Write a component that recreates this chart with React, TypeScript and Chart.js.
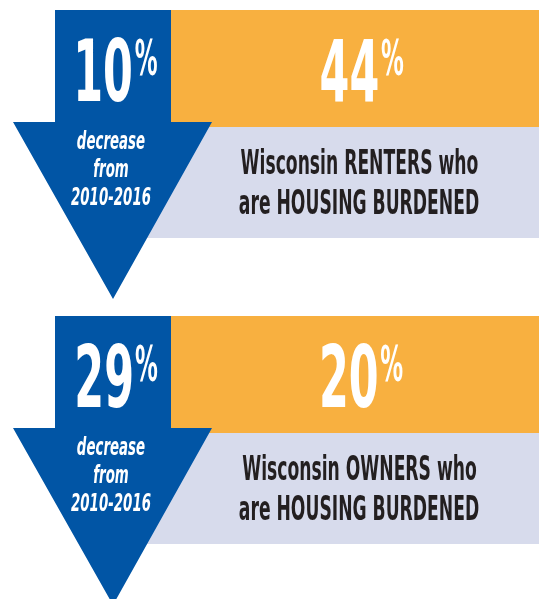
import React, { useEffect, useRef } from "react";
import { Chart, registerables } from "chart.js";

Chart.register(...registerables);

// ---- data ----
const groups = ["RENTERS", "OWNERS"];
const burdenedPct = [44, 20];
const decreasePct = [10, 29];
const periodLabel = "2010-2016";
const decreaseLines = ["decrease", "from", periodLabel];
const lineOne = groups.map((g) => `Wisconsin ${g} who`);
const lineTwo = "are HOUSING BURDENED";

// ---- styles ----
const BLUE = "#0155a5";
const ORANGE = "#f8b040";
const LAVENDER = "#d7dbec";
const DARK = "#231f20";
const FONT = "'Liberation Sans Narrow', 'DejaVu Sans Condensed', 'Arial Narrow', sans-serif";

function drawScaled(
  ctx: CanvasRenderingContext2D,
  text: string,
  x: number,
  y: number,
  font: string,
  sx: number,
  align: CanvasTextAlign,
  color: string
) {
  ctx.save();
  ctx.font = font;
  ctx.fillStyle = color;
  ctx.textAlign = align;
  ctx.textBaseline = "alphabetic";
  ctx.translate(x, y);
  ctx.scale(sx, 1);
  ctx.fillText(text, 0, 0);
  ctx.restore();
}

function inkBox(ctx: CanvasRenderingContext2D, text: string, font: string) {
  ctx.save();
  ctx.font = font;
  ctx.textAlign = "left";
  ctx.textBaseline = "alphabetic";
  const m = ctx.measureText(text);
  ctx.restore();
  return {
    left: m.actualBoundingBoxLeft,
    right: m.actualBoundingBoxRight,
    width: m.actualBoundingBoxLeft + m.actualBoundingBoxRight,
    ascent: m.actualBoundingBoxAscent,
    descent: m.actualBoundingBoxDescent,
  };
}

const infographicPlugin = {
  id: "infographic",
  beforeDatasetsDraw(chart: any) {
    const ctx: CanvasRenderingContext2D = chart.ctx;
    const yScale = chart.scales.y;
    const W = chart.width;

    const numFont = `bold 100px ${FONT}`;
    const pctFont = `bold 60px ${FONT}`;
    const itFont = `italic bold 24px ${FONT}`;
    const lineFont = `bold 34px ${FONT}`;

    // fit glyph ink to the reference proportions
    const numBox = inkBox(ctx, "44", numFont);
    const numSy = 63 / numBox.ascent;
    const numSx = 56 / numBox.width;
    const pctBox = inkBox(ctx, "%", pctFont);
    const pctH = pctBox.ascent + pctBox.descent;
    const pctSy = 38 / pctH;
    const pctSx = 22 / pctBox.width;
    const sxIt = 80 / inkBox(ctx, periodLabel, itFont).width;
    const sxLine = 239 / inkBox(ctx, lineTwo, lineFont).width;

    const drawScaledXY = (text: string, x: number, y: number, font: string, sx: number, sy: number) => {
      ctx.save();
      ctx.font = font;
      ctx.fillStyle = "#ffffff";
      ctx.textAlign = "left";
      ctx.textBaseline = "alphabetic";
      ctx.translate(x, y);
      ctx.scale(sx, sy);
      ctx.fillText(text, 0, 0);
      ctx.restore();
    };

    const drawPct = (val: number, cx: number, top: number) => {
      const s = String(val);
      const b = inkBox(ctx, s, numFont);
      const wd = b.width * numSx;
      const wp = pctBox.width * pctSx;
      const gap = 4;
      const start = cx - (wd + gap + wp) / 2;
      drawScaledXY(s, start + b.left * numSx, top + 91, numFont, numSx, numSy);
      // top of % aligned with top of digits
      const pctBaseline = top + 28 + pctBox.ascent * pctSy;
      drawScaledXY("%", start + wd + gap + pctBox.left * pctSx, pctBaseline, pctFont, pctSx, pctSy);
    };

    groups.forEach((_, i) => {
      const top = yScale.getPixelForValue(i);

      // lavender panel
      ctx.fillStyle = LAVENDER;
      ctx.fillRect(120, top + 117, W - 120, 111);
      // orange panel
      ctx.fillStyle = ORANGE;
      ctx.fillRect(171, top, W - 171, 117);

      // blue arrow
      ctx.fillStyle = BLUE;
      ctx.beginPath();
      ctx.moveTo(55, top);
      ctx.lineTo(171, top);
      ctx.lineTo(171, top + 112);
      ctx.lineTo(212, top + 112);
      ctx.lineTo(113, top + 289);
      ctx.lineTo(13, top + 112);
      ctx.lineTo(55, top + 112);
      ctx.closePath();
      ctx.fill();

      // arrow text
      drawPct(decreasePct[i], 117.5, top);
      decreaseLines.forEach((t, k) => {
        drawScaled(ctx, t, 111, top + 139 + k * 28, itFont, sxIt, "center", "#ffffff");
      });

      // orange number
      drawPct(burdenedPct[i], 362.5, top);

      // description
      drawScaled(ctx, lineOne[i], 359.5, top + 164, lineFont, sxLine, "center", DARK);
      drawScaled(ctx, lineTwo, 359, top + 203.5, lineFont, sxLine, "center", DARK);
    });
  },
};

export default function App() {
  const ref = useRef<HTMLCanvasElement | null>(null);
  useEffect(() => {
    if (!ref.current) return;
    const chart = new Chart(ref.current, {
      type: "bar",
      data: {
        labels: groups,
        datasets: [
          {
            data: burdenedPct,
            backgroundColor: "rgba(0,0,0,0)",
            borderWidth: 0,
          },
        ],
      },
      options: {
        indexAxis: "y",
        responsive: false,
        animation: false,
        events: [],
        layout: { padding: { top: 10, bottom: 283, left: 0, right: 0 } },
        scales: {
          x: { type: "linear", min: 0, max: 100, display: false },
          y: { type: "category", display: false, offset: false },
        },
        plugins: { legend: { display: false }, tooltip: { enabled: false } },
      },
      plugins: [infographicPlugin],
    });
    return () => chart.destroy();
  }, []);
  return (
    <div style={{ position: "fixed", left: 0, top: 0, width: 539, height: 599, background: "#ffffff" }}>
      <canvas ref={ref} width={539} height={599} style={{ display: "block" }} />
    </div>
  );
}
